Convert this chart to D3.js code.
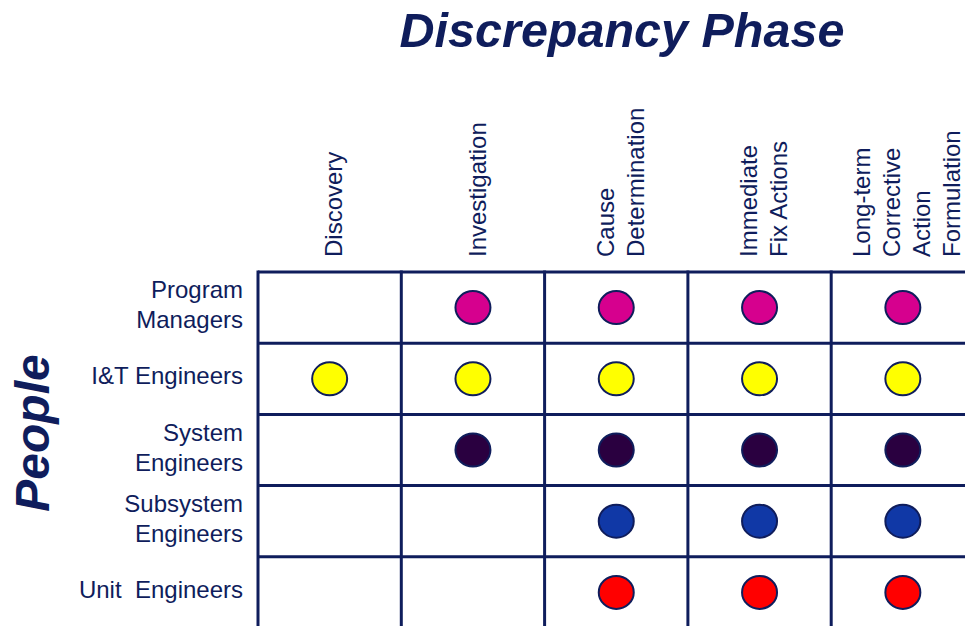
<!DOCTYPE html>
<html>
<head>
<meta charset="utf-8">
<script src="https://cdn.jsdelivr.net/npm/d3@7"></script>
<style>
  html, body { margin: 0; padding: 0; background: #ffffff; }
  svg { display: block; }
  text { font-family: "Liberation Sans", Arial, Helvetica, sans-serif; fill: #0f1d5c; }
</style>
</head>
<body>
<svg id="chart" width="965" height="626"></svg>
<script>
// ---- data ----
const phases = ["Discovery", "Investigation", "Cause Determination", "Immediate Fix Actions", "Long-term Corrective Action Formulation"];
const phaseLabels = [["Discovery"], ["Investigation"], ["Cause", "Determination"], ["Immediate", "Fix Actions"], ["Long-term", "Corrective", "Action", "Formulation"]];
const people = ["Program Managers", "I&T Engineers", "System Engineers", "Subsystem Engineers", "Unit Engineers"];
const peopleLabels = [["Program", "Managers"], ["I&T Engineers"], ["System", "Engineers"], ["Subsystem", "Engineers"], ["Unit  Engineers"]];
const peopleColors = ["#d6008e", "#ffff00", "#2a0040", "#1038a6", "#ff0000"];
// involvement[person][phase] : 1 = involved
const involvement = [
  [0, 1, 1, 1, 1],
  [1, 1, 1, 1, 1],
  [0, 1, 1, 1, 1],
  [0, 0, 1, 1, 1],
  [0, 0, 1, 1, 1]
];
const titleText = "Discrepancy Phase";
const sideText = "People";

// ---- layout ----
const ink = "#0f1d5c";
const svg = d3.select("#chart");
const gridLeft = 258, gridTop = 272, colW = 143.3, rowH = 71.2;

const x = d3.scaleBand().domain(phases).range([gridLeft, gridLeft + colW * phases.length]).paddingInner(0).paddingOuter(0);
const y = d3.scaleBand().domain(people).range([gridTop, gridTop + rowH * people.length]).paddingInner(0).paddingOuter(0);

// title
svg.append("text")
  .attr("x", 622).attr("y", 47)
  .attr("text-anchor", "middle")
  .style("font-size", "48.5px").style("font-weight", "bold").style("font-style", "italic")
  .text(titleText);

// side title
svg.append("text")
  .attr("transform", "translate(49,433) rotate(-90)")
  .attr("text-anchor", "middle")
  .style("font-size", "48px").style("font-weight", "bold").style("font-style", "italic")
  .text(sideText);

// grid lines
const grid = svg.append("g").attr("stroke", ink).attr("stroke-width", 3);
const [y0, y1] = y.range();
const [x0, x1] = x.range();
phases.forEach(p => {
  grid.append("line").attr("x1", x(p)).attr("x2", x(p)).attr("y1", y0 - 1.5).attr("y2", y1);
});
grid.append("line").attr("x1", x1).attr("x2", x1).attr("y1", y0 - 1.5).attr("y2", y1);
people.forEach(p => {
  grid.append("line").attr("x1", x0).attr("x2", x1).attr("y1", y(p)).attr("y2", y(p));
});
grid.append("line").attr("x1", x0).attr("x2", x1).attr("y1", y1).attr("y2", y1);

// column headers (rotated)
const headerFont = 24, headerLine = 30, headerBottom = 257;
phases.forEach((p, i) => {
  const lines = phaseLabels[i];
  const cx = x(p) + x.bandwidth() / 2;
  const n = lines.length;
  lines.forEach((ln, j) => {
    const bx = cx + (j - (n - 1) / 2) * headerLine + headerFont * 0.36 + 4;
    svg.append("text")
      .attr("transform", `translate(${bx},${headerBottom}) rotate(-90)`)
      .attr("text-anchor", "start")
      .style("font-size", headerFont + "px")
      .text(ln);
  });
});

// row labels
const rowFont = 24, rowLine = 30, labelRight = 243;
people.forEach((p, i) => {
  const lines = peopleLabels[i];
  const cy = y(p) + y.bandwidth() / 2;
  const n = lines.length;
  lines.forEach((ln, j) => {
    svg.append("text")
      .attr("x", labelRight)
      .attr("y", cy + (j - (n - 1) / 2) * rowLine + rowFont * 0.36 - 3)
      .attr("text-anchor", "end")
      .attr("xml:space", "preserve")
      .style("white-space", "pre")
      .style("font-size", rowFont + "px")
      .text(ln);
  });
});

// dots
const cells = [];
people.forEach((p, i) => phases.forEach((ph, j) => {
  if (involvement[i][j]) cells.push({ person: p, phase: ph, color: peopleColors[i] });
}));
svg.append("g").selectAll("ellipse").data(cells).join("ellipse")
  .attr("cx", d => x(d.phase) + x.bandwidth() / 2)
  .attr("cy", d => y(d.person) + y.bandwidth() / 2)
  .attr("rx", 17.5).attr("ry", 16.5)
  .attr("fill", d => d.color)
  .attr("stroke", ink).attr("stroke-width", 2);
</script>
</body>
</html>
